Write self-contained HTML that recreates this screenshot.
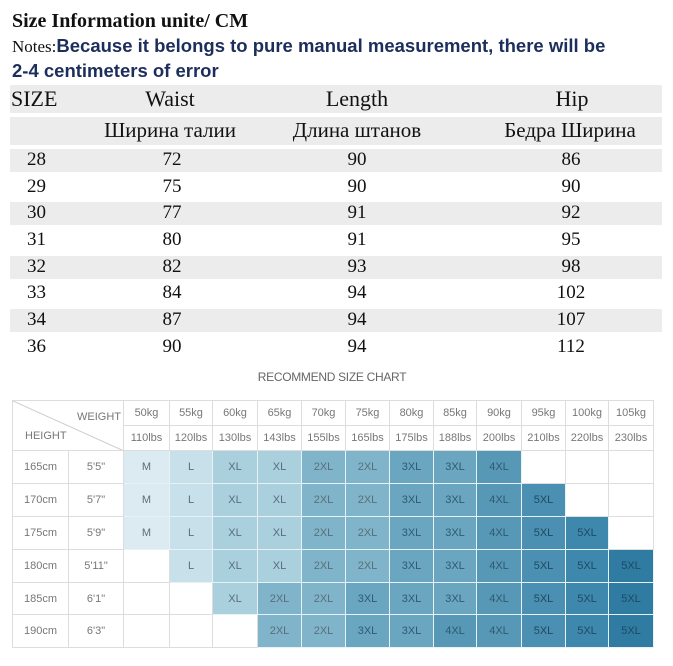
<!DOCTYPE html>
<html><head><meta charset="utf-8"><style>
body{margin:0;width:673px;height:666px;background:#fff;position:relative;overflow:hidden;font-family:"Liberation Serif",serif;}
.a{position:absolute;white-space:nowrap}
.g{position:absolute;left:10px;width:652px;background:#ececec}
.r{position:absolute;font-size:19px;color:#111;white-space:nowrap}
.c{transform:translateX(-50%)}
table{position:absolute;left:12px;top:400px;border-collapse:collapse;table-layout:fixed;font-family:"Liberation Sans",sans-serif;font-size:11px;color:#777;}
td{border:1px solid #ddd;text-align:center;padding:0;overflow:hidden}
td.k{border-color:#e6f2f6;color:#5a6f7a}
.m{background:#dcebf1}.l{background:#c8e0e9}.x{background:#aacfdd}.x2{background:#80b4ca}.x3{background:#6aa6c0}.x4{background:#5798b6}.x5{background:#4b8fb2}.x6{background:#3f88ad}.x7{background:#2f7ba1}
td.x3,td.x4{color:#2f5a72}td.x5,td.x6,td.x7{color:#1f4a62}
</style></head><body>
<div class="a" style="left:12px;top:10px;font-size:20px;font-weight:bold;color:#111">Size Information unite/ CM</div>
<div class="a" style="left:12px;top:35px;color:#1c2e5c;font-family:'Liberation Sans',sans-serif;font-weight:bold;font-size:18.5px"><span style="font-family:'Liberation Serif',serif;font-weight:normal;font-size:17px;color:#111">Notes:</span>Because it belongs to pure manual measurement, there will be</div>
<div class="a" style="left:12px;top:60px;color:#1c2e5c;font-family:'Liberation Sans',sans-serif;font-weight:bold;font-size:18.5px">2-4 centimeters of error</div>
<div class="g" style="top:85px;height:28px"></div>
<div class="g" style="top:117px;height:28px"></div>
<div class="g" style="top:149px;height:23px"></div>
<div class="g" style="top:202px;height:23px"></div>
<div class="g" style="top:256px;height:23px"></div>
<div class="g" style="top:309px;height:23px"></div>
<div class="r" style="left:11px;top:86px;font-size:22px">SIZE</div>
<div class="r c" style="left:170px;top:86px;font-size:22px">Waist</div>
<div class="r c" style="left:357px;top:86px;font-size:22px">Length</div>
<div class="r c" style="left:572px;top:86px;font-size:22px">Hip</div>
<div class="r c" style="left:170px;top:118px;font-size:21px">Ширина талии</div>
<div class="r c" style="left:357px;top:118px;font-size:21px">Длина штанов</div>
<div class="r c" style="left:570px;top:118px;font-size:21px">Бедра Ширина</div>

<div class="r" style="left:27px;top:149px">28</div><div class="r c" style="left:172px;top:149px">72</div><div class="r c" style="left:357px;top:149px">90</div><div class="r c" style="left:571px;top:149px">86</div>
<div class="r" style="left:27px;top:176px">29</div><div class="r c" style="left:172px;top:176px">75</div><div class="r c" style="left:357px;top:176px">90</div><div class="r c" style="left:571px;top:176px">90</div>
<div class="r" style="left:27px;top:202px">30</div><div class="r c" style="left:172px;top:202px">77</div><div class="r c" style="left:357px;top:202px">91</div><div class="r c" style="left:571px;top:202px">92</div>
<div class="r" style="left:27px;top:229px">31</div><div class="r c" style="left:172px;top:229px">80</div><div class="r c" style="left:357px;top:229px">91</div><div class="r c" style="left:571px;top:229px">95</div>
<div class="r" style="left:27px;top:256px">32</div><div class="r c" style="left:172px;top:256px">82</div><div class="r c" style="left:357px;top:256px">93</div><div class="r c" style="left:571px;top:256px">98</div>
<div class="r" style="left:27px;top:282px">33</div><div class="r c" style="left:172px;top:282px">84</div><div class="r c" style="left:357px;top:282px">94</div><div class="r c" style="left:571px;top:282px">102</div>
<div class="r" style="left:27px;top:309px">34</div><div class="r c" style="left:172px;top:309px">87</div><div class="r c" style="left:357px;top:309px">94</div><div class="r c" style="left:571px;top:309px">107</div>
<div class="r" style="left:27px;top:336px">36</div><div class="r c" style="left:172px;top:336px">90</div><div class="r c" style="left:357px;top:336px">94</div><div class="r c" style="left:571px;top:336px">112</div>

<div class="a c" style="left:332px;top:370px;font-family:'Liberation Sans',sans-serif;font-size:12px;color:#666;letter-spacing:-0.3px">RECOMMEND SIZE CHART</div>

<table>
<colgroup><col style="width:56px"><col style="width:55px"><col style="width:46px"><col style="width:43px"><col style="width:45px"><col style="width:44px"><col style="width:44px"><col style="width:44px"><col style="width:44px"><col style="width:43px"><col style="width:45px"><col style="width:44px"><col style="width:43px"><col style="width:45px"></colgroup>
<tr style="height:25px"><td colspan="2" rowspan="2" style="position:relative;font-size:11px">
<svg width="111" height="50" style="position:absolute;left:0;top:0"><line x1="0" y1="0" x2="111" y2="50" stroke="#ccc"/></svg>
<span style="position:absolute;left:64px;top:10px">WEIGHT</span><span style="position:absolute;left:12px;top:29px">HEIGHT</span></td>
<td>50kg</td><td>55kg</td><td>60kg</td><td>65kg</td><td>70kg</td><td>75kg</td><td>80kg</td><td>85kg</td><td>90kg</td><td>95kg</td><td>100kg</td><td>105kg</td></tr>
<tr style="height:25px"><td>110lbs</td><td>120lbs</td><td>130lbs</td><td>143lbs</td><td>155lbs</td><td>165lbs</td><td>175lbs</td><td>188lbs</td><td>200lbs</td><td>210lbs</td><td>220lbs</td><td>230lbs</td></tr>
<tr style="height:33px"><td>165cm</td><td>5'5"</td><td class="k m">M</td><td class="k l">L</td><td class="k x">XL</td><td class="k x">XL</td><td class="k x2">2XL</td><td class="k x2">2XL</td><td class="k x3">3XL</td><td class="k x3">3XL</td><td class="k x4">4XL</td><td></td><td></td><td></td></tr>
<tr style="height:33px"><td>170cm</td><td>5'7"</td><td class="k m">M</td><td class="k l">L</td><td class="k x">XL</td><td class="k x">XL</td><td class="k x2">2XL</td><td class="k x2">2XL</td><td class="k x3">3XL</td><td class="k x3">3XL</td><td class="k x4">4XL</td><td class="k x5">5XL</td><td></td><td></td></tr>
<tr style="height:33px"><td>175cm</td><td>5'9"</td><td class="k m">M</td><td class="k l">L</td><td class="k x">XL</td><td class="k x">XL</td><td class="k x2">2XL</td><td class="k x2">2XL</td><td class="k x3">3XL</td><td class="k x3">3XL</td><td class="k x4">4XL</td><td class="k x5">5XL</td><td class="k x6">5XL</td><td></td></tr>
<tr style="height:33px"><td>180cm</td><td>5'11"</td><td></td><td class="k l">L</td><td class="k x">XL</td><td class="k x">XL</td><td class="k x2">2XL</td><td class="k x2">2XL</td><td class="k x3">3XL</td><td class="k x3">3XL</td><td class="k x4">4XL</td><td class="k x5">5XL</td><td class="k x6">5XL</td><td class="k x7">5XL</td></tr>
<tr style="height:32px"><td>185cm</td><td>6'1"</td><td></td><td></td><td class="k x">XL</td><td class="k x2">2XL</td><td class="k x2">2XL</td><td class="k x3">3XL</td><td class="k x3">3XL</td><td class="k x3">3XL</td><td class="k x4">4XL</td><td class="k x5">5XL</td><td class="k x6">5XL</td><td class="k x7">5XL</td></tr>
<tr style="height:33px"><td>190cm</td><td>6'3"</td><td></td><td></td><td></td><td class="k x2">2XL</td><td class="k x2">2XL</td><td class="k x3">3XL</td><td class="k x3">3XL</td><td class="k x4">4XL</td><td class="k x4">4XL</td><td class="k x5">5XL</td><td class="k x6">5XL</td><td class="k x7">5XL</td></tr>
</table>
</body></html>
